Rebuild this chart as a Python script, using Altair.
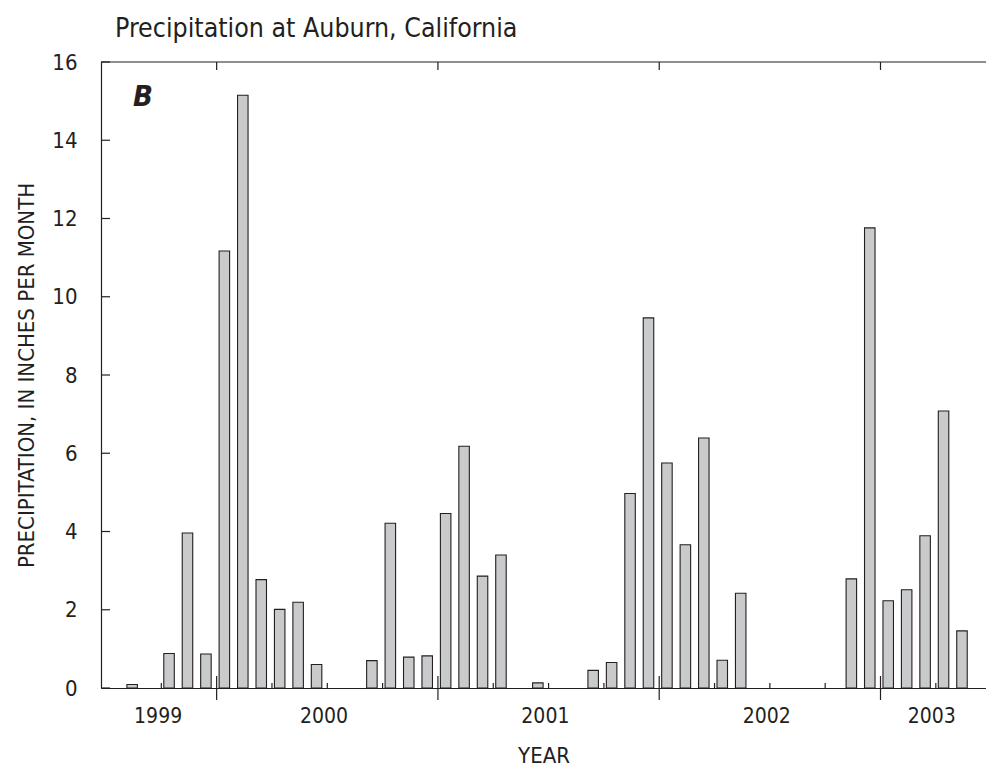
import altair as alt
import pandas as pd

# Monthly precipitation, July 1999 through May 2003 (inches per month)
months = [
    "1999-07", "1999-08", "1999-09", "1999-10", "1999-11", "1999-12",
    "2000-01", "2000-02", "2000-03", "2000-04", "2000-05", "2000-06",
    "2000-07", "2000-08", "2000-09", "2000-10", "2000-11", "2000-12",
    "2001-01", "2001-02", "2001-03", "2001-04", "2001-05", "2001-06",
    "2001-07", "2001-08", "2001-09", "2001-10", "2001-11", "2001-12",
    "2002-01", "2002-02", "2002-03", "2002-04", "2002-05", "2002-06",
    "2002-07", "2002-08", "2002-09", "2002-10", "2002-11", "2002-12",
    "2003-01", "2003-02", "2003-03", "2003-04", "2003-05",
]
precip = [
    0.0, 0.09, 0.0, 0.88, 3.96, 0.87,
    11.17, 15.15, 2.77, 2.01, 2.19, 0.6,
    0.0, 0.0, 0.7, 4.21, 0.79, 0.82,
    4.46, 6.18, 2.86, 3.4, 0.0, 0.13,
    0.0, 0.0, 0.45, 0.65, 4.97, 9.46,
    5.75, 3.66, 6.39, 0.71, 2.42, 0.0,
    0.0, 0.0, 0.0, 0.0, 2.79, 11.76,
    2.23, 2.51, 3.89, 7.08, 1.46,
]

# Axis furniture, in months counted from July 1999
year_bounds = [6, 18, 30, 42]
quarter_marks = [3, 9, 12, 15, 21, 24, 27, 33, 36, 39, 45]
year_label_pos = [2.8, 11.8, 23.8, 35.8, 44.75]
y_ticks = [0, 2, 4, 6, 8, 10, 12, 14, 16]

W, H = 885, 626
X_MAX = 47.45
FONT = "Liberation Sans Narrow, Arial Narrow, DejaVu Sans Condensed, Roboto, sans-serif"
INK = "#231f20"

bars = pd.DataFrame({"month": months, "precip": precip})
bars["idx"] = range(len(months))
bars["mid"] = bars["idx"] + 0.5

xs = alt.Scale(domain=[0, X_MAX], nice=False, zero=False)
ys = alt.Scale(domain=[0, 16], nice=False)

x_axis = alt.Axis(
    values=year_label_pos,
    labelExpr="toString(floor((datum.value - 6) / 12) + 2000)",
    ticks=False,
    grid=False,
    labelFlush=False,
    labelPadding=17,
    labelFontSize=21,
    labelFont=FONT,
    labelColor=INK,
    domainColor=INK,
    domainWidth=1.2,
    title="YEAR",
    titleFont=FONT,
    titleFontSize=22,
    titleFontWeight="normal",
    titleColor=INK,
    titlePadding=19,
)
y_axis = alt.Axis(
    values=y_ticks,
    ticks=False,
    grid=False,
    labelPadding=24,
    labelFontSize=22,
    labelFont=FONT,
    labelColor=INK,
    domainColor=INK,
    domainWidth=1.2,
    title="PRECIPITATION, IN INCHES PER MONTH",
    titleFont=FONT,
    titleFontSize=22,
    titleFontWeight="normal",
    titleColor=INK,
    titlePadding=13,
)

bar_layer = (
    alt.Chart(bars)
    .transform_filter("datum.precip > 0")
    .mark_bar(size=10.5, xOffset=-1.5, fill="#c9cacc", stroke=INK, strokeWidth=1.1)
    .encode(
        x=alt.X("mid:Q", scale=xs, axis=x_axis),
        y=alt.Y("precip:Q", scale=ys, axis=y_axis),
    )
)

top_border = alt.Chart(pd.DataFrame({"k": [0]})).mark_rule(color=INK, strokeWidth=1.2).encode(
    x=alt.value(0), x2=alt.value(W), y=alt.value(0)
)

yb = pd.DataFrame({"mid": year_bounds})
year_ticks_bottom = alt.Chart(yb).mark_rule(color=INK, strokeWidth=1.2).encode(
    x=alt.X("mid:Q", scale=xs), y=alt.value(H - 12), y2=alt.value(H + 12)
)
year_ticks_top = alt.Chart(yb).mark_rule(color=INK, strokeWidth=1.2).encode(
    x=alt.X("mid:Q", scale=xs), y=alt.value(0), y2=alt.value(8)
)
quarter_ticks = alt.Chart(pd.DataFrame({"mid": quarter_marks})).mark_rule(
    color=INK, strokeWidth=1.2
).encode(x=alt.X("mid:Q", scale=xs), y=alt.value(H - 5), y2=alt.value(H))

left_ticks = alt.Chart(pd.DataFrame({"precip": y_ticks})).mark_rule(
    color=INK, strokeWidth=1.2
).encode(y=alt.Y("precip:Q", scale=ys), x=alt.value(0), x2=alt.value(9))

panel_letter = alt.Chart(pd.DataFrame({"t": ["B"]})).mark_text(
    align="left", baseline="alphabetic", font=FONT, fontSize=29,
    fontWeight="bold", fontStyle="italic", color=INK,
).encode(text="t:N", x=alt.value(32), y=alt.value(44))

chart = (
    alt.layer(
        bar_layer, top_border, year_ticks_bottom, year_ticks_top,
        quarter_ticks, left_ticks, panel_letter,
    )
    .properties(
        width=W,
        height=H,
        padding={"left": 101, "top": 62, "right": 0, "bottom": 82},
        autosize=alt.AutoSizeParams(type="none"),
        background="white",
        title=alt.TitleParams(
            "Precipitation at Auburn, California",
            anchor="start",
            frame="group",
            offset=9,
            dx=14,
            font=FONT,
            fontSize=26.5,
            fontWeight="normal",
            color=INK,
        ),
    )
    .configure_view(stroke=None)
)

chart.save("out.html", embed_options={"renderer": "svg", "actions": False})
